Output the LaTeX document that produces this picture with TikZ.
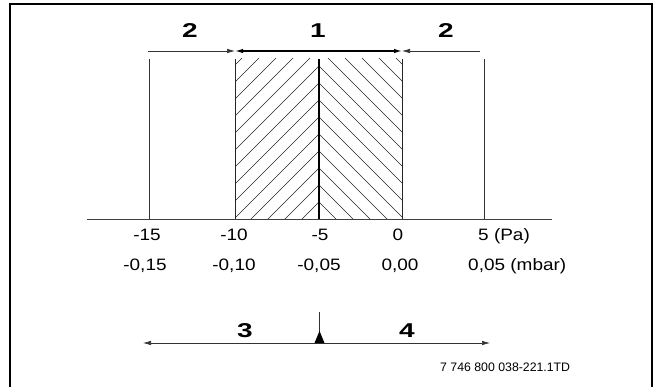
\documentclass[tikz,border=0pt]{standalone}
\usepackage{fontspec}
\setmainfont{Liberation Sans}
\usetikzlibrary{arrows.meta}
\newcommand\widetxt[1]{\scalebox{1.15}[1]{#1}}
\newcommand\widebold[1]{\scalebox{1.4}[1]{#1}}
\begin{document}
\begin{tikzpicture}[x=1pt,y=-1pt,
  lbl/.style={font=\fontsize{16.5}{18}\selectfont, inner sep=0pt, anchor=base},
  num/.style={font=\fontsize{20}{22}\selectfont\bfseries, inner sep=0pt, anchor=base},
  thinline/.style={line width=0.7pt, black!80},
  bound/.style={line width=0.9pt, black!85},
  hatch/.style={line width=0.55pt, black!85},
  tipR/.style={-{Latex[length=8pt,width=4.5pt]}},
  tipB/.style={{Latex[length=8pt,width=4.5pt]}-{Latex[length=8pt,width=4.5pt]}}
]
\useasboundingbox (0,0) rectangle (653,387);
% frame
\draw[line width=1.3pt] (10,387) -- (10,4) -- (652,4) -- (652,387);

% hatching
\begin{scope}
  \clip (235,59) rectangle (319,219);
  \foreach \k in {0,...,14} {
    \draw[hatch] (319,219-17*\k) -- (119,419-17*\k);
  }
\end{scope}
\begin{scope}
  \clip (319,59) rectangle (402,219);
  \foreach \k in {0,...,14} {
    \draw[hatch] (319,219-17*\k) -- (519,419-17*\k);
  }
\end{scope}

% coordinates of scale
\coordinate (b15) at (149,219); \coordinate (u15) at (149,59);
\coordinate (b10) at (235,219); \coordinate (u10) at (235,59);
\coordinate (b5)  at (319,219); \coordinate (u5)  at (319,59);
\coordinate (b0)  at (402,219); \coordinate (u0)  at (402,59);
\coordinate (bp5) at (484,219); \coordinate (up5) at (484,59);
\coordinate (axL) at (87,220);  \coordinate (axR) at (552,220);

\draw[thinline] (b15) -- (u15);
\draw[bound] (b10) -- (u10);
\draw[line width=1.8pt] (b5) -- (u5);
\draw[bound] (b0) -- (u0);
\draw[thinline] (bp5) -- (up5);
\draw[line width=1pt, black!75] (axL) -- (axR);

% top arrows
\coordinate (aL) at (148,51);
\coordinate (aA) at (235,51);
\coordinate (aB) at (402,51);
\coordinate (aR) at (480,51);
\draw[thinline, tipR] (aL) -- (aA);
\draw[line width=1.3pt, tipB] (aA) -- (aB);
\draw[thinline, tipR] (aR) -- (aB);

\node[num] (n2a) at (190,38) {\widebold{2}};
\node[num] (n1)  at (318,38) {\widebold{1}};
\node[num] (n2b) at (446,38) {\widebold{2}};

% tick labels
\node[lbl] (p15) at (147,241) {\widetxt{-15}};
\node[lbl] (p10) at (234,241) {\widetxt{-10}};
\node[lbl] (p5)  at (320,241) {\widetxt{-5}};
\node[lbl] (p0)  at (398,241) {\widetxt{0}};
\node[lbl, anchor=base west] (pp5) at (478,241) {\widetxt{5 (Pa)}};
\node[lbl] (m15) at (145,271) {\widetxt{-0,15}};
\node[lbl] (m10) at (234,271) {\widetxt{-0,10}};
\node[lbl] (m5)  at (319,271) {\widetxt{-0,05}};
\node[lbl] (m0)  at (400,271) {\widetxt{0,00}};
\node[lbl, anchor=base west] (mp5) at (468,271) {\widetxt{0,05 (mbar)}};

% bottom arrow
\coordinate (bL) at (143,343);
\coordinate (bR) at (490,343);
\coordinate (bT) at (319.5,312);
\coordinate (bM) at (319.5,343);
\draw[thinline, tipB] (bL) -- (bR);
\draw[thinline] (bT) -- (bM);
\fill (314.5,343) -- (319.5,331) -- (324.5,343) -- cycle;
\node[num] (n3) at (245,337) {\widebold{3}};
\node[num] (n4) at (407,337) {\widebold{4}};

\node[font=\fontsize{12.3}{14}\selectfont, inner sep=0pt, anchor=base west] (ref) at (440,371) {7 746 800 038-221.1TD};
\end{tikzpicture}
\end{document}
